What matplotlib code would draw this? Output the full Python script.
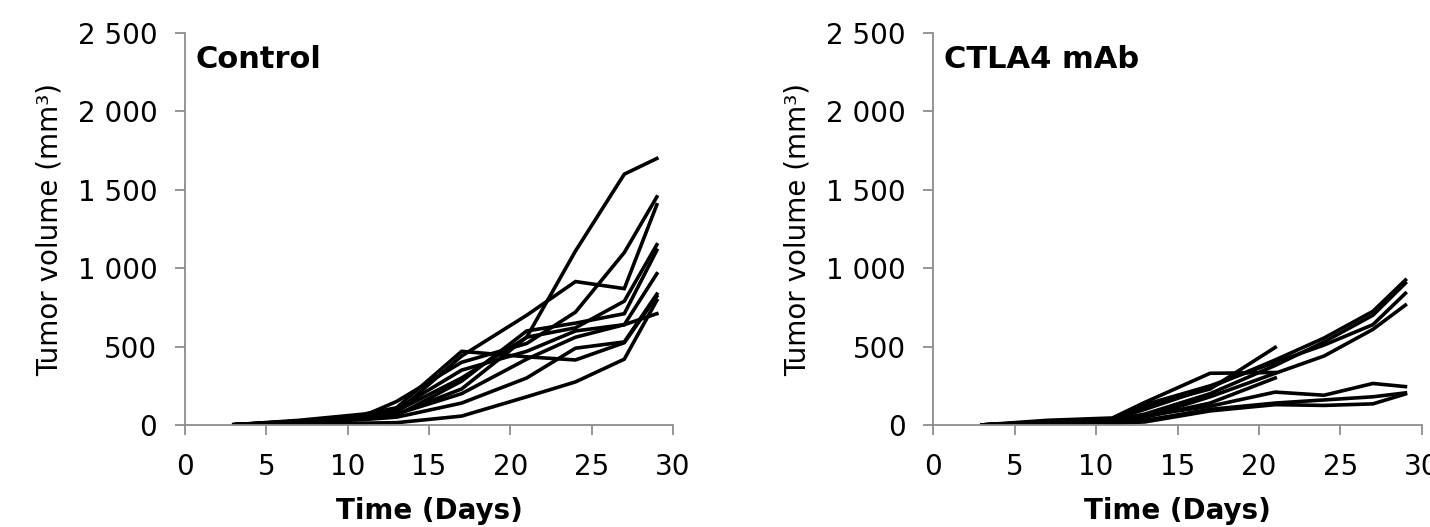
import matplotlib
matplotlib.use("Agg")
import matplotlib.pyplot as plt
from matplotlib.ticker import FuncFormatter

plt.rcParams['font.family'] = ['DejaVu Sans']

days = [3, 7, 11, 13, 17, 21, 24, 27, 29]

# control group, one list per mouse (mm3)
ctrl_1 = [2, 25, 60, 90, 300, 560, 1110, 1600, 1700]
ctrl_2 = [2, 20, 50, 80, 440, 700, 915, 870, 1405]
ctrl_3 = [2, 25, 60, 150, 400, 520, 720, 1100, 1455]
ctrl_4 = [2, 30, 70, 110, 470, 435, 415, 525, 820]
ctrl_5 = [1, 5, 12, 15, 57, 180, 275, 420, 795]
ctrl_6 = [2, 15, 35, 50, 140, 300, 490, 530, 835]
ctrl_7 = [2, 20, 50, 70, 230, 560, 620, 790, 1150]
ctrl_8 = [2, 20, 45, 60, 280, 600, 650, 710, 1115]
ctrl_9 = [2, 25, 60, 100, 350, 470, 600, 640, 965]
ctrl_10 = [2, 20, 45, 70, 200, 420, 560, 640, 710]

# CTLA4 mAb group (some mice stop at day 21)
ab_1 = [1, 20, 35, 100, 240, 415, 555, 725, 925]
ab_2 = [1, 15, 30, 70, 200, 380, 530, 700, 905]
ab_3 = [1, 20, 40, 130, 250, 400, 510, 640, 840]
ab_4 = [1, 10, 20, 50, 180, 330, 440, 610, 765]
ab_5 = [1, 10, 20, 60, 120, 210, 190, 265, 245]
ab_6 = [1, 5, 15, 30, 100, 140, 160, 180, 205]
ab_7 = [1, 5, 10, 20, 90, 130, 125, 135, 198]
ab_8 = [1, 20, 40, 120, 230, 495]
ab_9 = [1, 30, 45, 145, 330, 335]
ab_10 = [1, 10, 25, 50, 140, 300]

control = [ctrl_1, ctrl_2, ctrl_3, ctrl_4, ctrl_5, ctrl_6, ctrl_7, ctrl_8, ctrl_9, ctrl_10]
ctla4 = [ab_1, ab_2, ab_3, ab_4, ab_5, ab_6, ab_7, ab_8, ab_9, ab_10]

titles = ["Control", "CTLA4 mAb"]
yticks = [0, 500, 1000, 1500, 2000, 2500]
xticks = [0, 5, 10, 15, 20, 25, 30]


def fmt_thousands(v, pos):
    return "{:,}".format(int(v)).replace(",", " ")


fig = plt.figure(figsize=(14.3, 5.27), dpi=100)
ax1 = fig.add_axes([0.1294, 0.1935, 0.3413, 0.7438])
ax2 = fig.add_axes([0.6527, 0.1935, 0.3415, 0.7438])

for ax, group, title in zip([ax1, ax2], [control, ctla4], titles):
    for vals in group:
        ax.plot(days[:len(vals)], vals, color="black", lw=2.6, solid_joinstyle="miter")
    ax.set_xlim(0, 30)
    ax.set_ylim(0, 2500)
    ax.set_xticks(xticks)
    ax.set_yticks(yticks)
    ax.yaxis.set_major_formatter(FuncFormatter(fmt_thousands))
    for s in ["top", "right"]:
        ax.spines[s].set_visible(False)
    for s in ["left", "bottom"]:
        ax.spines[s].set_color("#8c8c8c")
        ax.spines[s].set_linewidth(1.3)
    ax.tick_params(axis="both", direction="out", length=7, width=1.3,
                   color="#8c8c8c", labelsize=20, pad=13)
    ax.set_xlabel("Time (Days)", fontsize=20, fontweight="bold", labelpad=12)
    ax.set_ylabel("Tumor volume (mm³)", fontsize=20, labelpad=10)
    ax.text(0.022, 0.97, title, transform=ax.transAxes, fontsize=22,
            fontweight="bold", va="top", ha="left")

fig.savefig("out.png", dpi=100)
